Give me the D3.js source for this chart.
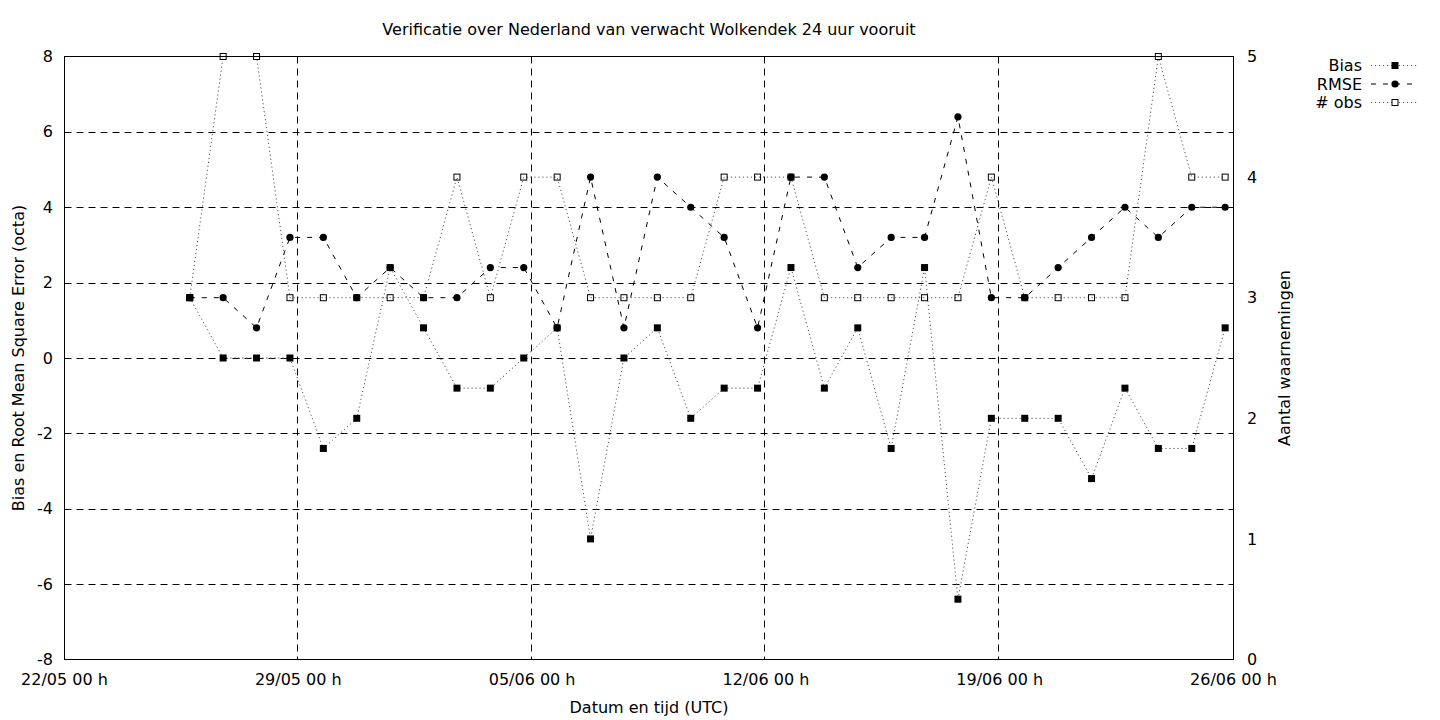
<!DOCTYPE html>
<html>
<head>
<meta charset="utf-8">
<script src="https://cdn.jsdelivr.net/npm/d3@7"></script>
<style>
html,body{margin:0;padding:0;background:#fff;}
svg{display:block;font-family:"DejaVu Sans",sans-serif;}
</style>
</head>
<body>
<svg id="chart" width="1440" height="720"></svg>
<script>
const times = [
"2023-05-25T18:00Z","2023-05-26T18:00Z","2023-05-27T18:00Z","2023-05-28T18:00Z",
"2023-05-29T18:00Z","2023-05-30T18:00Z","2023-05-31T18:00Z","2023-06-01T18:00Z",
"2023-06-02T18:00Z","2023-06-03T18:00Z","2023-06-04T18:00Z","2023-06-05T18:00Z",
"2023-06-06T18:00Z","2023-06-07T18:00Z","2023-06-08T18:00Z","2023-06-09T18:00Z",
"2023-06-10T18:00Z","2023-06-11T18:00Z","2023-06-12T18:00Z","2023-06-13T18:00Z",
"2023-06-14T18:00Z","2023-06-15T18:00Z","2023-06-16T18:00Z","2023-06-17T18:00Z",
"2023-06-18T18:00Z","2023-06-19T18:00Z","2023-06-20T18:00Z","2023-06-21T18:00Z",
"2023-06-22T18:00Z","2023-06-23T18:00Z","2023-06-24T18:00Z","2023-06-25T18:00Z"];
const bias = [1.6,0,0,0,-2.4,-1.6,2.4,0.8,-0.8,-0.8,0,0.8,-4.8,0,0.8,-1.6,
              -0.8,-0.8,2.4,-0.8,0.8,-2.4,2.4,-6.4,-1.6,-1.6,-1.6,-3.2,-0.8,-2.4,-2.4,0.8];
const rmse = [1.6,1.6,0.8,3.2,3.2,1.6,2.4,1.6,1.6,2.4,2.4,0.8,4.8,0.8,4.8,4.0,
              3.2,0.8,4.8,4.8,2.4,3.2,3.2,6.4,1.6,1.6,2.4,3.2,4.0,3.2,4.0,4.0];
const nobs = [3,5,5,3,3,3,3,3,4,3,4,4,3,3,3,3,
              4,4,4,3,3,3,3,3,4,3,3,3,3,5,4,4];
const xTickDates = ["2023-05-22T00:00Z","2023-05-29T00:00Z","2023-06-05T00:00Z","2023-06-12T00:00Z","2023-06-19T00:00Z","2023-06-26T00:00Z"];
const yLeftTicks = [-8,-6,-4,-2,0,2,4,6,8];
const yRightTicks = [0,1,2,3,4,5];
const title = "Verificatie over Nederland van verwacht Wolkendek 24 uur vooruit";
const xLabel = "Datum en tijd (UTC)";
const yLeftLabel = "Bias en Root Mean Square Error (octa)";
const yRightLabel = "Aantal waarnemingen";

const L = 64.5, R = 1233.5, T = 56.5, B = 659.5;
const svg = d3.select("#chart");
const parse = d3.isoParse;
const dates = times.map(parse);
const x = d3.scaleUtc().domain([parse(xTickDates[0]), parse(xTickDates[xTickDates.length-1])]).range([L, R]);
const yL = d3.scaleLinear().domain([-8, 8]).range([B, T]);
const yR = d3.scaleLinear().domain([0, 5]).range([B, T]);
const fmt = d3.utcFormat("%d/%m %H h");
const fs = 16;

// grid
const g = svg.append("g");
yLeftTicks.filter(v => v > -8 && v < 8).forEach(v => {
  const yy = Math.round(yL(v)) + 0.5;
  g.append("line").attr("x1", L).attr("x2", R).attr("y1", yy).attr("y2", yy)
    .attr("stroke", "#000").attr("stroke-width", 1).attr("stroke-dasharray", "7,5");
});
xTickDates.slice(1, -1).forEach(s => {
  const xx = Math.floor(x(parse(s))) - 0.5;
  g.append("line").attr("x1", xx).attr("x2", xx).attr("y1", T).attr("y2", B)
    .attr("stroke", "#000").attr("stroke-width", 1).attr("stroke-dasharray", "7,5");
});

// axes labels
yLeftTicks.forEach(v => {
  svg.append("text").attr("x", 53).attr("y", yL(v)).attr("dy", "0.35em")
    .attr("text-anchor", "end").attr("font-size", fs).text(v);
});
yRightTicks.forEach(v => {
  svg.append("text").attr("x", 1247).attr("y", yR(v)).attr("dy", "0.35em")
    .attr("text-anchor", "start").attr("font-size", fs).text(v);
});
xTickDates.forEach(s => {
  svg.append("text").attr("x", x(parse(s))).attr("y", 679).attr("dy", "0.35em")
    .attr("text-anchor", "middle").attr("font-size", fs).text(fmt(parse(s)));
});
svg.append("text").attr("x", 649).attr("y", 29).attr("dy", "0.35em")
  .attr("text-anchor", "middle").attr("font-size", fs).text(title);
svg.append("text").attr("x", 649).attr("y", 707).attr("dy", "0.35em")
  .attr("text-anchor", "middle").attr("font-size", fs).text(xLabel);
svg.append("text").attr("transform", "translate(18,358) rotate(-90)").attr("dy", "0.35em")
  .attr("text-anchor", "middle").attr("font-size", fs).text(yLeftLabel);
svg.append("text").attr("transform", "translate(1284,358) rotate(-90)").attr("dy", "0.35em")
  .attr("text-anchor", "middle").attr("font-size", fs).text(yRightLabel);

// series
const dotted = {stroke: "#555", dash: "1.2,2.8"};
const dashed = {stroke: "#000", dash: "5,7"};
function drawLine(vals, ys, style) {
  const line = d3.line().x((d, i) => x(dates[i])).y(d => ys(d));
  svg.append("path").datum(vals).attr("d", line).attr("fill", "none")
    .attr("stroke", style.stroke).attr("stroke-width", 1).attr("stroke-dasharray", style.dash);
}
drawLine(bias, yL, dotted);
drawLine(rmse, yL, dashed);
drawLine(nobs, yR, dotted);

const s = 7;
svg.append("g").selectAll("rect").data(bias).join("rect")
  .attr("x", (d, i) => x(dates[i]) - s/2).attr("y", d => yL(d) - s/2)
  .attr("width", s).attr("height", s).attr("fill", "#000");
svg.append("g").selectAll("circle").data(rmse).join("circle")
  .attr("cx", (d, i) => x(dates[i])).attr("cy", d => yL(d)).attr("r", 3.6).attr("fill", "#000");
svg.append("g").selectAll("rect").data(nobs).join("rect")
  .attr("x", (d, i) => x(dates[i]) - 3).attr("y", d => yR(d) - 3)
  .attr("width", 6).attr("height", 6).attr("fill", "none").attr("stroke", "#000").attr("stroke-width", 1);

// border
svg.append("rect").attr("x", L).attr("y", T).attr("width", R - L).attr("height", B - T)
  .attr("fill", "none").attr("stroke", "#000").attr("stroke-width", 1);

// legend
const legend = [
  {name: "Bias", style: dotted, marker: "fsq"},
  {name: "RMSE", style: dashed, marker: "circ"},
  {name: "# obs", style: dotted, marker: "osq"}];
legend.forEach((d, i) => {
  const yy = 65.5 + i * 18.5;
  svg.append("text").attr("x", 1362).attr("y", yy).attr("dy", "0.35em")
    .attr("text-anchor", "end").attr("font-size", fs).text(d.name);
  svg.append("line").attr("x1", 1371).attr("x2", 1418).attr("y1", yy).attr("y2", yy)
    .attr("stroke", d.style.stroke).attr("stroke-width", 1).attr("stroke-dasharray", d.style.dash);
  if (d.marker === "fsq") svg.append("rect").attr("x", 1395 - s/2).attr("y", yy - s/2).attr("width", s).attr("height", s).attr("fill", "#000");
  if (d.marker === "circ") svg.append("circle").attr("cx", 1395).attr("cy", yy).attr("r", 3.6).attr("fill", "#000");
  if (d.marker === "osq") svg.append("rect").attr("x", 1392).attr("y", yy - 3).attr("width", 6).attr("height", 6).attr("fill", "#fff").attr("stroke", "#000");
});
</script>
</body>
</html>
